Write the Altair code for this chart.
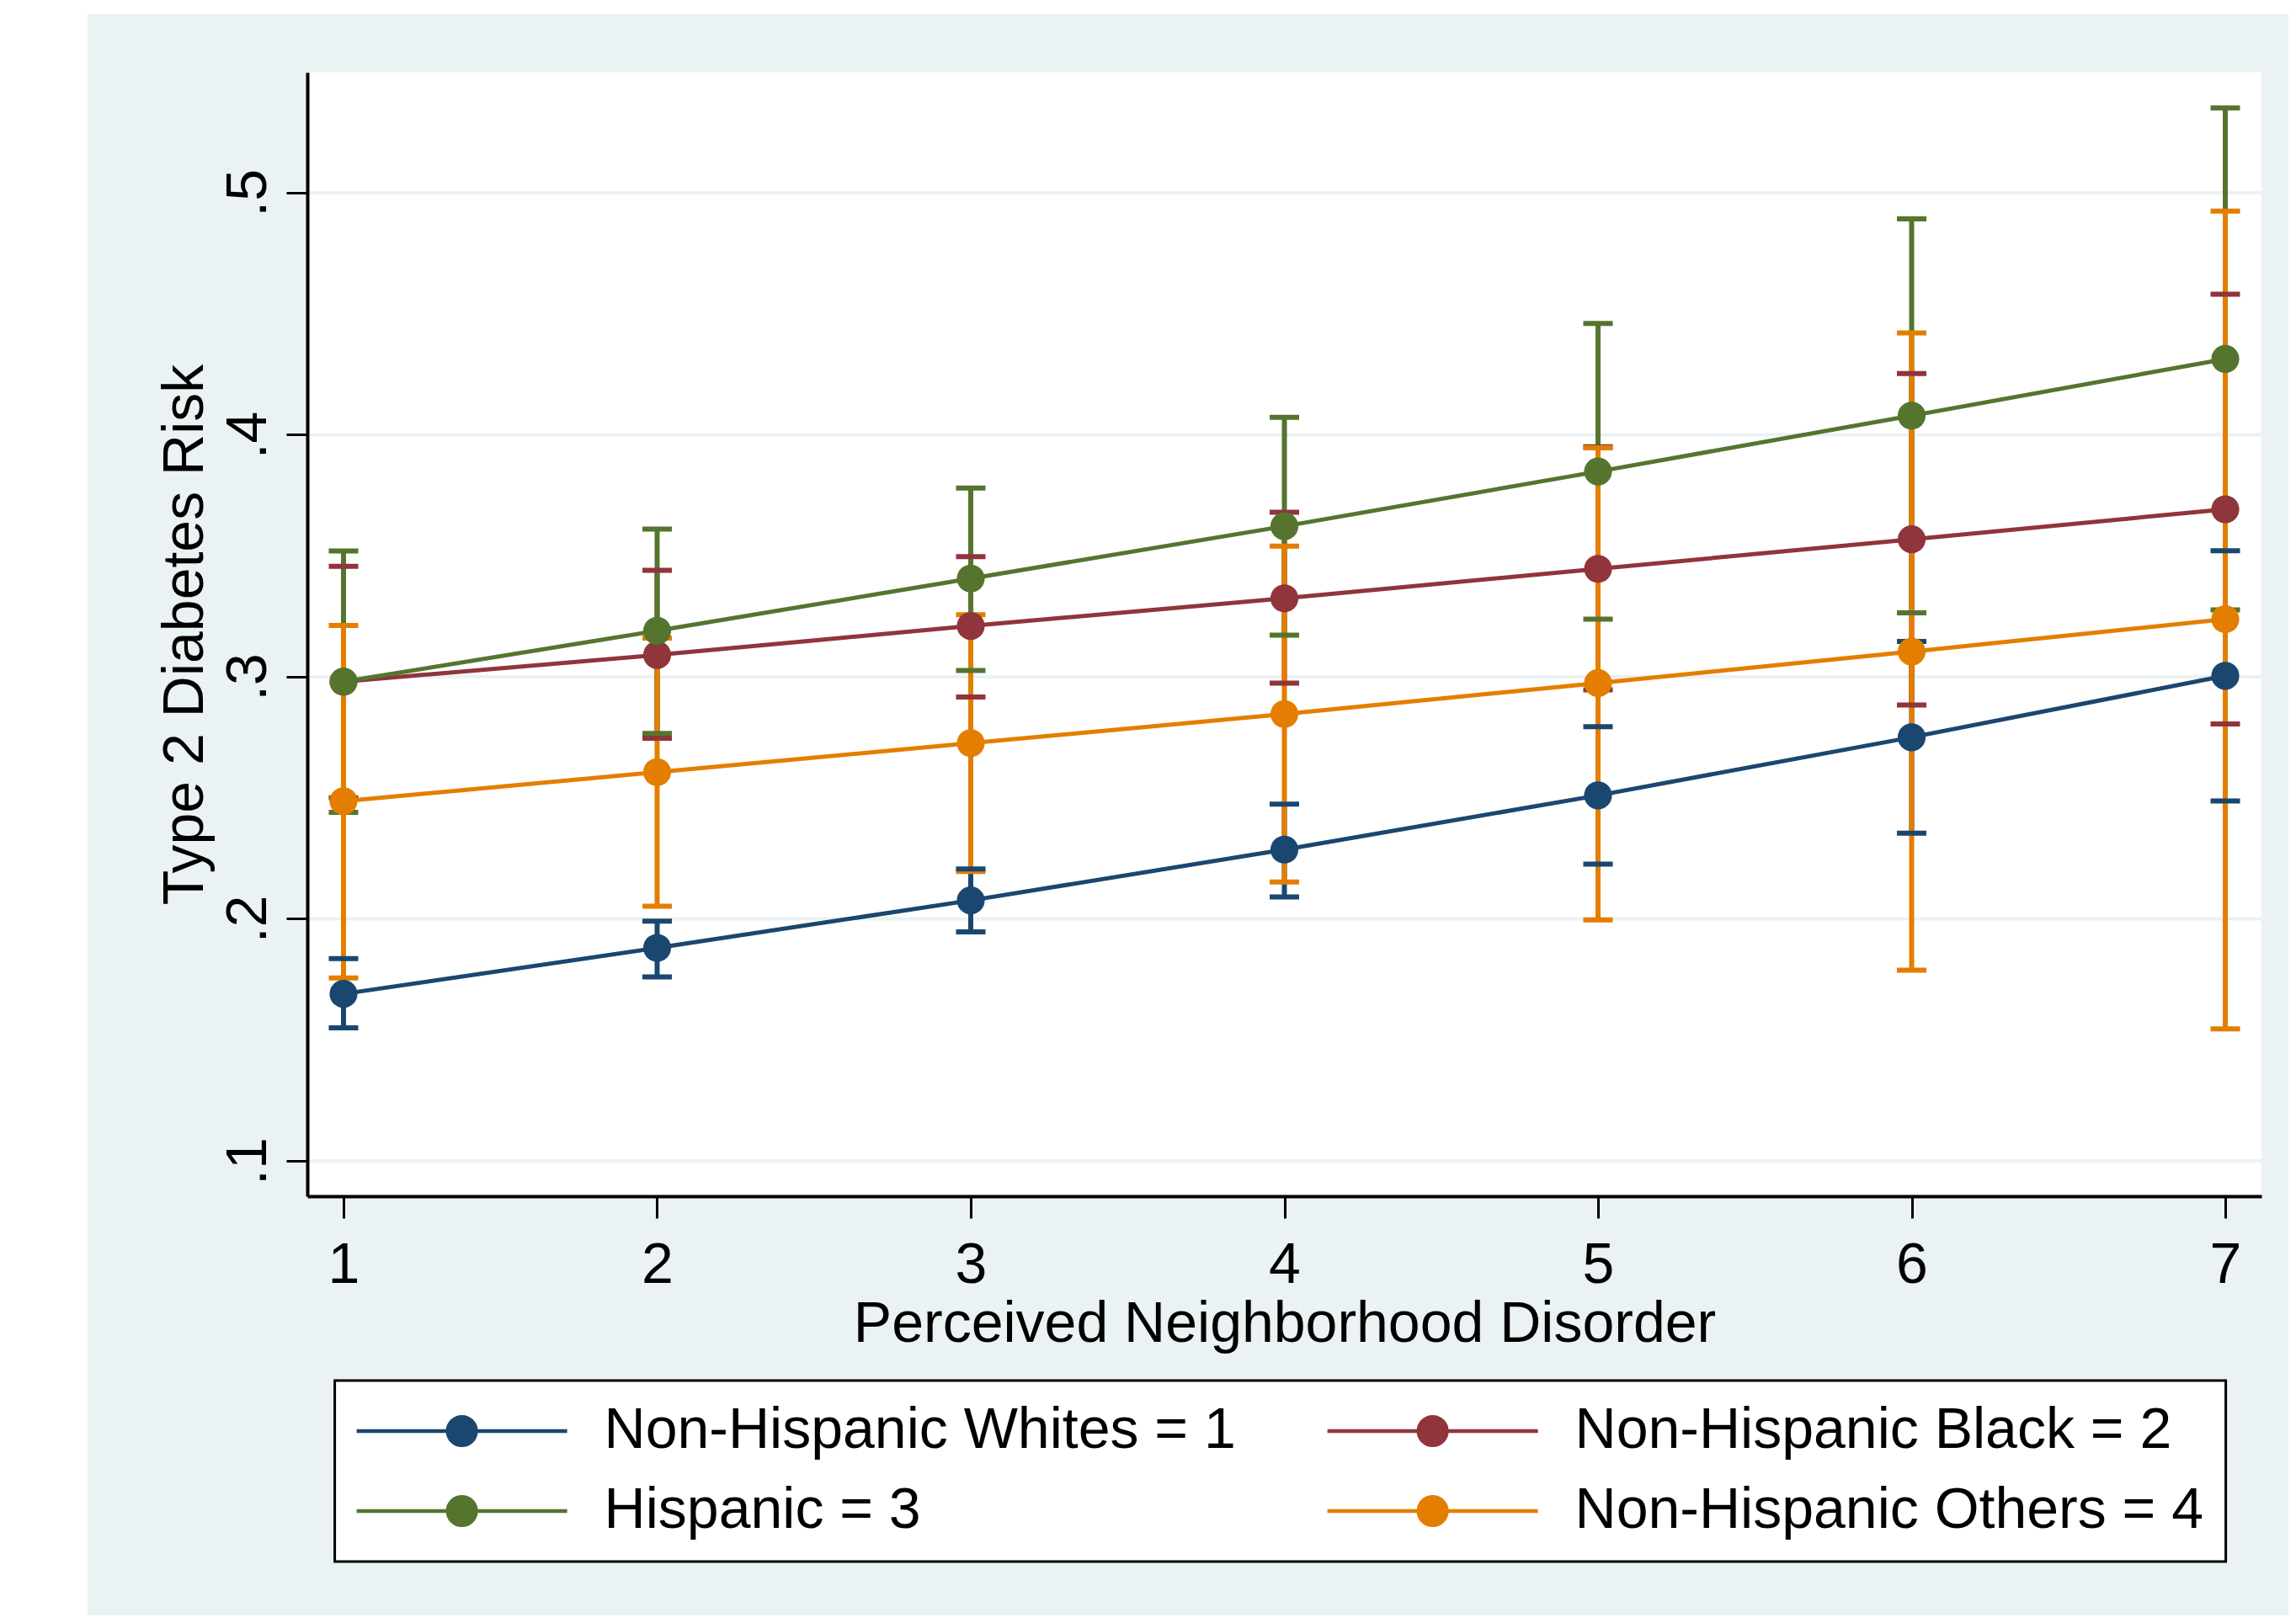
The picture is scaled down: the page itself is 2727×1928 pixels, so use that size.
import altair as alt
import pandas as pd

# ---------------- data ----------------
disorder = [1, 2, 3, 4, 5, 6, 7]
series_names = ["Non-Hispanic Whites = 1", "Non-Hispanic Black = 2",
                "Hispanic = 3", "Non-Hispanic Others = 4"]
series_colors = ["#1A476F", "#90353B", "#55752F", "#E37E00"]

whites_mean = [0.169, 0.188, 0.2076, 0.2286, 0.251, 0.275, 0.3004]
whites_lo = [0.155, 0.176, 0.1946, 0.209, 0.2226, 0.2354, 0.2487]
whites_hi = [0.1836, 0.199, 0.2206, 0.2474, 0.2794, 0.3146, 0.3521]

black_mean = [0.298, 0.309, 0.321, 0.3324, 0.3446, 0.3568, 0.3692]
black_lo = [0.250, 0.2746, 0.2916, 0.2974, 0.2946, 0.2883, 0.2805]
black_hi = [0.3456, 0.344, 0.3496, 0.368, 0.395, 0.4253, 0.4581]

hisp_mean = [0.298, 0.319, 0.3406, 0.3622, 0.3848, 0.4079, 0.4313]
hisp_lo = [0.244, 0.2766, 0.3026, 0.3172, 0.3238, 0.3264, 0.3276]
hisp_hi = [0.352, 0.361, 0.378, 0.4072, 0.446, 0.4892, 0.535]

other_mean = [0.2486, 0.2606, 0.2726, 0.2846, 0.2974, 0.3104, 0.3238]
other_lo = [0.1756, 0.2052, 0.2196, 0.2152, 0.1996, 0.1788, 0.1545]
other_hi = [0.3212, 0.316, 0.3256, 0.354, 0.3946, 0.4421, 0.4924]

y_ticks = [0.1, 0.2, 0.3, 0.4, 0.5]
x_ticks = disorder

means = [whites_mean, black_mean, hisp_mean, other_mean]
los = [whites_lo, black_lo, hisp_lo, other_lo]
his = [whites_hi, black_hi, hisp_hi, other_hi]

rows = []
for name, m_list, lo_list, hi_list in zip(series_names, means, los, his):
    for xv, m, lo, hi in zip(disorder, m_list, lo_list, hi_list):
        rows.append({"disorder": xv, "group": name, "risk": m, "lo": lo, "hi": hi})
df = pd.DataFrame(rows)

# ---------------- layout ----------------
W, H = 2321, 1335
BG = "#EAF2F3"
FONT = "Liberation Sans"
FS = 68

xscale = alt.Scale(domain=[0.8846, 7.1154], nice=False, zero=False)
yscale = alt.Scale(domain=[0.0854, 0.5497], nice=False, zero=False)

xaxis = alt.Axis(values=x_ticks, title="Perceived Neighborhood Disorder", grid=False,
                 domainColor="black", domainWidth=4, tickColor="black", tickWidth=3,
                 tickSize=26, labelFont=FONT, labelFontSize=FS, labelColor="black",
                 labelPadding=22, labelFlush=False, labelBaseline="top",
                 titleFont=FONT, titleFontSize=FS, titleFontWeight="normal",
                 titleColor="black", titleX=W / 2, titleY=172, titleAlign="center",
                 titleBaseline="alphabetic", zindex=1)
yaxis = alt.Axis(values=y_ticks, title="Type 2 Diabetes Risk", grid=False,
                 labelExpr="replace(format(datum.value, '.1f'), '0.', '.')",
                 domainColor="black", domainWidth=4, tickColor="black", tickWidth=3,
                 tickSize=25, labelFont=FONT, labelFontSize=FS, labelColor="black",
                 labelAngle=270, labelAlign="center", labelBaseline="alphabetic",
                 labelPadding=25, labelFlush=False,
                 titleFont=FONT, titleFontSize=FS, titleFontWeight="normal",
                 titleColor="black", titleAngle=270, titleX=-125, titleY=H / 2,
                 titleAlign="center", titleBaseline="alphabetic", zindex=1)

# legend symbol: a horizontal line with a dot in the middle (unit = 20 px)
r = 0.84
sym_path = (f"M-6.25,0L6.25,0M{r},0A{r},{r},0,1,1,-{r},0A{r},{r},0,1,1,{r},0Z")

leg = alt.Legend(
    title=None, orient="none", legendX=32.6, legendY=1554, columns=2,
    direction="horizontal",
    columnPadding=99, rowPadding=27, padding=26,
    symbolType=sym_path, symbolSize=1600, symbolStrokeWidth=4.5, symbolOpacity=1,
    symbolOffset=91,
    labelFont=FONT, labelFontSize=FS, labelColor="black", labelLimit=3000,
    labelOffset=135, fillColor="white", strokeColor="black",
)
color = alt.Color("group:N", scale=alt.Scale(domain=series_names, range=series_colors),
                  legend=leg)

one = pd.DataFrame({"k": [0]})
outer_bg = alt.Chart(one).mark_rect(color=BG).encode(
    x=alt.value(-261), x2=alt.value(2353), y=alt.value(-69), y2=alt.value(1833))
plot_bg = alt.Chart(one).mark_rect(color="white").encode(
    x=alt.value(0), x2=alt.value(W), y=alt.value(0), y2=alt.value(H))

grid = alt.Chart(pd.DataFrame({"tick": y_ticks})).mark_rule(
    color=BG, strokeWidth=4).encode(
    y=alt.Y("tick:Q", scale=yscale, axis=yaxis))

base = alt.Chart(df)
xenc = alt.X("disorder:Q", scale=xscale, axis=xaxis)

bars = base.mark_rule(strokeWidth=6, opacity=1).encode(
    x=xenc, y=alt.Y("lo:Q", scale=yscale, axis=yaxis), y2="hi:Q", color=color)
cap_lo = base.mark_tick(orient="horizontal", size=35, thickness=6, opacity=1).encode(
    x=xenc, y=alt.Y("lo:Q", scale=yscale, axis=yaxis), color=color)
cap_hi = base.mark_tick(orient="horizontal", size=35, thickness=6, opacity=1).encode(
    x=xenc, y=alt.Y("hi:Q", scale=yscale, axis=yaxis), color=color)
lines = base.mark_line(strokeWidth=5).encode(
    x=xenc, y=alt.Y("risk:Q", scale=yscale, axis=yaxis), color=color)
points = base.mark_point(filled=True, size=1100, opacity=1).encode(
    x=xenc, y=alt.Y("risk:Q", scale=yscale, axis=yaxis), color=color)

chart = alt.layer(outer_bg, plot_bg, grid, bars, cap_lo, cap_hi, lines, points).properties(
    width=W, height=H, background="white",
    padding={"left": 96, "top": 9, "right": 0, "bottom": 0},
).configure_view(stroke="transparent").configure_legend(strokeWidth=3)

chart.save("out.html", embed_options={"renderer": "svg", "actions": False})
